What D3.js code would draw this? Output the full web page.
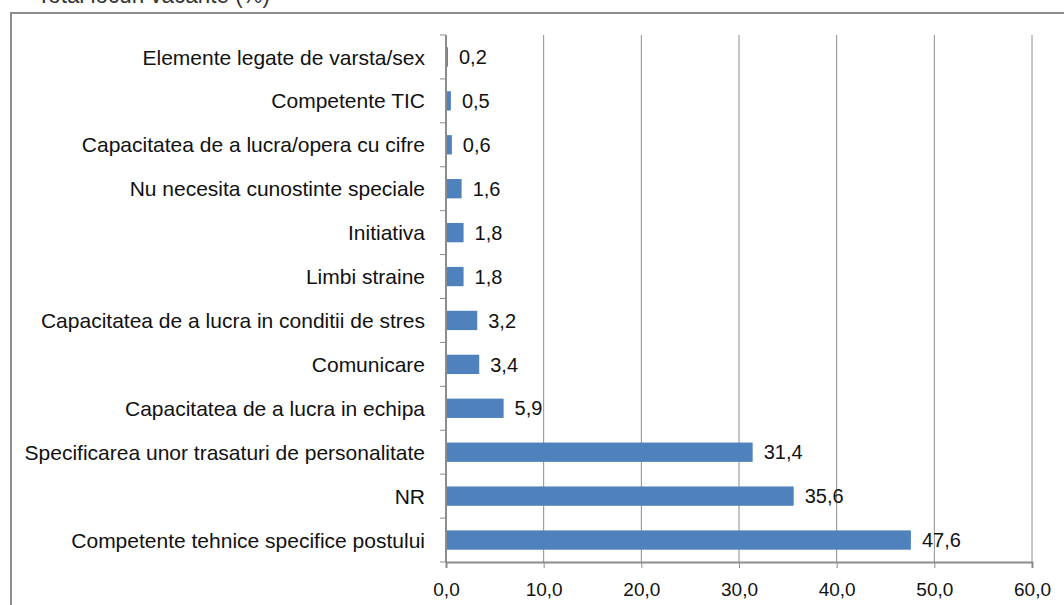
<!DOCTYPE html>
<html>
<head>
<meta charset="UTF-8">
<script src="https://d3js.org/d3.v7.min.js"></script>
<style>
  body { margin: 0; background: #fff; }
  svg { display: block; font-family: "Liberation Sans", Arial, sans-serif; }
</style>
</head>
<body>
<svg width="1064" height="605"></svg>
<script>
const categories = [
  "Elemente legate de varsta/sex",
  "Competente TIC",
  "Capacitatea de a lucra/opera cu cifre",
  "Nu necesita cunostinte speciale",
  "Initiativa",
  "Limbi straine",
  "Capacitatea de a lucra in conditii de stres",
  "Comunicare",
  "Capacitatea de a lucra in echipa",
  "Specificarea unor trasaturi de personalitate",
  "NR",
  "Competente tehnice specifice postului"
];
const values = [0.2, 0.5, 0.6, 1.6, 1.8, 1.8, 3.2, 3.4, 5.9, 31.4, 35.6, 47.6];
const xTicks = [0, 10, 20, 30, 40, 50, 60];
const fmt = v => v.toFixed(1).replace(".", ",");

const svg = d3.select("svg");

// title, cut at the top edge as in the source image
svg.append("text")
  .attr("x", 37).attr("y", 3)
  .attr("font-size", 24).attr("fill", "#333")
  .attr("textLength", 233).attr("lengthAdjust", "spacingAndGlyphs")
  .text("Total locuri vacante (%)");

// chart frame
svg.append("rect")
  .attr("x", 11).attr("y", 13)
  .attr("width", 1070).attr("height", 600)
  .attr("fill", "none").attr("stroke", "#8c8c8c").attr("stroke-width", 2);

const x = d3.scaleLinear().domain([0, 60]).range([446, 1032]);
const y = d3.scaleBand().domain(categories).range([35, 562]).paddingInner(0.56).paddingOuter(0.28);

const g = svg.append("g");

// gridlines
g.selectAll(".grid").data(xTicks.slice(1)).enter().append("line")
  .attr("x1", d => x(d)).attr("x2", d => x(d))
  .attr("y1", 35).attr("y2", 562)
  .attr("stroke", "#8c8c8c").attr("stroke-width", 1);

// bars
g.selectAll(".bar").data(values).enter().append("rect")
  .attr("x", x(0))
  .attr("y", (d, i) => y(categories[i]))
  .attr("width", d => x(d) - x(0))
  .attr("height", y.bandwidth())
  .attr("fill", "#4f81bd");

// value labels
g.selectAll(".val").data(values).enter().append("text")
  .attr("x", d => x(d) + 11)
  .attr("y", (d, i) => y(categories[i]) + y.bandwidth() / 2)
  .attr("dy", "0.36em")
  .attr("font-size", 20).attr("fill", "#111")
  .text(d => fmt(d));

// x axis
const xAxis = d3.axisBottom(x).tickValues(xTicks).tickFormat(fmt).tickSize(6).tickPadding(15);
const xa = svg.append("g").attr("transform", "translate(0,562)").call(xAxis);
xa.select(".domain").attr("stroke", "#8c8c8c").attr("stroke-width", 2);
xa.selectAll(".tick line").attr("stroke", "#8c8c8c");
xa.selectAll("text").attr("font-size", 19).attr("fill", "#111").attr("font-family", "Liberation Sans, Arial, sans-serif");

// y axis with ticks at band boundaries
const ya = svg.append("g");
ya.append("line").attr("x1", 446).attr("x2", 446).attr("y1", 35).attr("y2", 562)
  .attr("stroke", "#8c8c8c").attr("stroke-width", 2);
const bounds = d3.range(categories.length + 1).map(i => 562 - i * (527 / categories.length));
ya.selectAll(".yt").data(bounds).enter().append("line")
  .attr("x1", 440).attr("x2", 446).attr("y1", d => d).attr("y2", d => d)
  .attr("stroke", "#8c8c8c");
ya.selectAll(".lab").data(categories).enter().append("text")
  .attr("x", 425)
  .attr("y", d => y(d) + y.bandwidth() / 2)
  .attr("dy", "0.36em")
  .attr("text-anchor", "end")
  .attr("font-size", 21).attr("fill", "#111")
  .text(d => d);
</script>
</body>
</html>
